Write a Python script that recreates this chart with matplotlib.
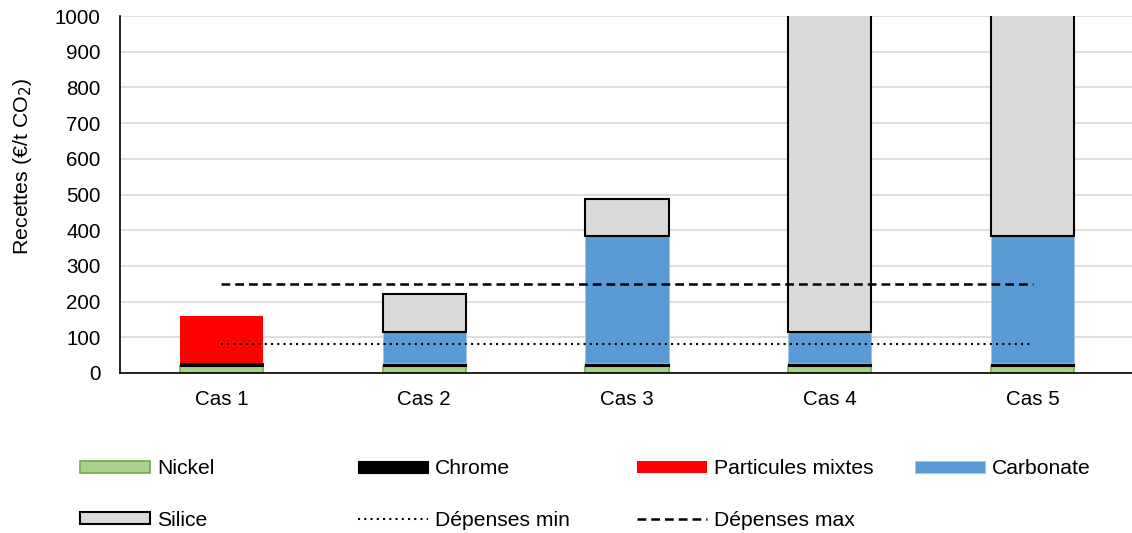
import matplotlib
matplotlib.use("Agg")
import matplotlib.pyplot as plt
import numpy as np

plt.rcParams['font.family'] = ['Liberation Sans', 'DejaVu Sans']

categories = ["Cas 1", "Cas 2", "Cas 3", "Cas 4", "Cas 5"]
nickel = [19, 19, 19, 19, 19]
chrome = [8, 8, 8, 8, 8]
particules = [133, 0, 0, 0, 0]
carbonate = [0, 89, 357, 89, 357]
silice = [0, 105, 103, 1500, 1500]
depenses_min = [80, 80, 80, 80, 80]
depenses_max = [250, 250, 250, 250, 250]
yticks = list(range(0, 1001, 100))

FS = 14.8
W, H = 1132, 533
fig = plt.figure(figsize=(W / 100, H / 100), dpi=100)
ax = fig.add_axes([120 / W, 1 - 373 / H, (1134 - 120) / W, (373 - 16) / H])

x = np.arange(len(categories))
bw = 0.41
bottom = np.zeros(len(categories))

def stack(vals, **kw):
    global bottom
    v = np.array(vals, dtype=float)
    mask = v > 0
    c = ax.bar(x[mask], v[mask], bw, bottom=bottom[mask], zorder=3, **kw)
    bottom = bottom + v
    return c

h_ni = stack(nickel, color="#A9D18E", edgecolor="#70AD47", linewidth=1.2, label="Nickel")
h_cr = stack(chrome, color="#000000", edgecolor="#000000", linewidth=0.8, label="Chrome")
h_pm = stack(particules, color="#FF0000", edgecolor="#FF0000", linewidth=0, label="Particules mixtes")
h_ca = stack(carbonate, color="#5B9BD5", edgecolor="#9DC3E6", linewidth=0.6, label="Carbonate")
h_si = stack(silice, color="#D9D9D9", edgecolor="#000000", linewidth=1.5, label="Silice")

l_min, = ax.plot(x, depenses_min, color="black", linestyle=(0, (1, 2)), linewidth=1.5,
                 zorder=4, label="Dépenses min")
l_max, = ax.plot(x, depenses_max, color="black", linestyle=(0, (3.5, 2)), linewidth=1.8,
                 zorder=4, label="Dépenses max")

ax.set_xlim(-0.5, len(categories) - 0.5)
ax.set_ylim(0, 1000)
ax.set_yticks(yticks)
ax.set_xticks(x)
ax.set_xticklabels(categories)
ax.tick_params(axis="both", length=0, labelsize=FS, colors="black")
ax.tick_params(axis="y", pad=14)
ax.tick_params(axis="x", pad=12)
ax.yaxis.grid(True, color="#D9D9D9", linewidth=1.2, zorder=0)
ax.set_axisbelow(True)
for s in ["top", "right"]:
    ax.spines[s].set_visible(False)
for s in ["left", "bottom"]:
    ax.spines[s].set_color("black")
    ax.spines[s].set_linewidth(1.2)
    ax.spines[s].set_zorder(5)
fig.text(23 / W, 1 - 166 / H, "Recettes (€/t CO$_2$)", rotation=90, ha="center",
         va="center", fontsize=15.4)

entries = [
    (h_ni, "Nickel", 80, 469),
    (h_cr, "Chrome", 358, 469),
    (h_pm, "Particules mixtes", 637, 469),
    (h_ca, "Carbonate", 915, 469),
    (h_si, "Silice", 80, 520),
    (l_min, "Dépenses min", 358, 520),
    (l_max, "Dépenses max", 637, 520),
]
for h, lab, px, py in entries:
    fig.legend([h], [lab], loc="center left", bbox_to_anchor=(px / W, 1 - py / H),
               frameon=False, borderpad=0, borderaxespad=0, handlelength=3.3,
               handleheight=0.5, handletextpad=0.35, fontsize=15.2)

fig.savefig("out.png", dpi=100)
